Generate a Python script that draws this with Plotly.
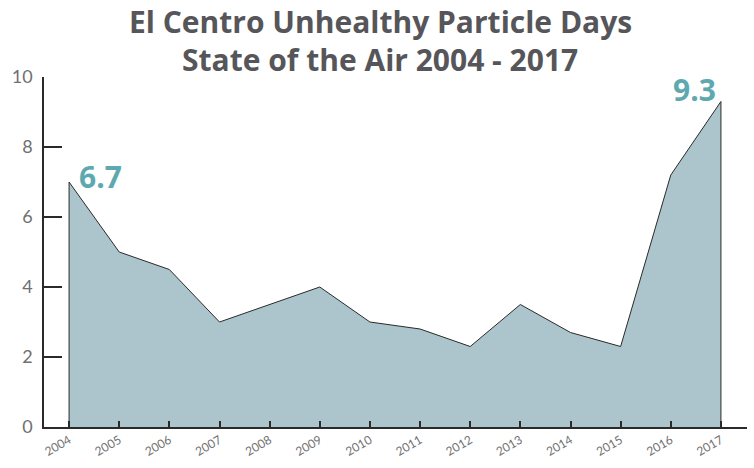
import plotly.graph_objects as go

years = list(range(2004, 2018))
days = [7.0, 5.0, 4.5, 3.0, 3.5, 4.0, 3.0, 2.8, 2.3, 3.5, 2.7, 2.3, 7.2, 9.3]
y_ticks = [0, 2, 4, 6, 8, 10]
callouts = {2004: "6.7", 2017: "9.3"}
title_lines = ["El Centro Unhealthy Particle Days", "State of the Air 2004 - 2017"]

# closed outline so the area has vertical edges at both ends
px = [years[0]] + years + [years[-1]]
py = [0] + days + [0]

fig = go.Figure()
fig.add_trace(go.Scatter(
    x=px, y=py, mode="lines", fill="toself",
    fillcolor="#acc4cb", line=dict(color="#2a2a2a", width=1),
    hoverinfo="skip", showlegend=False,
))

callout_font = dict(family="Open Sans, Lato, sans-serif", size=30, color="#5ea9af")
fig.add_annotation(x=2004, y=days[0], text="<b>" + callouts[2004] + "</b>",
                   showarrow=False, xanchor="left", yanchor="bottom",
                   xshift=8, yshift=-17, font=callout_font)
fig.add_annotation(x=2017, y=days[-1], text="<b>" + callouts[2017] + "</b>",
                   showarrow=False, xanchor="right", yanchor="bottom",
                   xshift=-3, yshift=-10, font=callout_font)

title_font = dict(family="Open Sans, Lato, sans-serif", size=30, color="#56565a")
for ty, line in zip([1.16, 1.05], title_lines):
    fig.add_annotation(xref="paper", yref="paper", x=0.478, y=ty,
                       text="<b>" + line + "</b>", showarrow=False,
                       xanchor="center", yanchor="middle", font=title_font)

fig.update_layout(
    width=754, height=468,
    margin=dict(l=44, r=7, t=77, b=41, autoexpand=False),
    plot_bgcolor="white", paper_bgcolor="white",
    xaxis=dict(
        range=[2003.5, 2017.52], tickvals=years, ticktext=[str(y) for y in years],
        tickangle=-30, ticks="inside", ticklen=6, tickcolor="#2a2a2a", tickwidth=1.5,
        showline=True, linecolor="#2a2a2a", linewidth=1.5, showgrid=False, zeroline=False,
        automargin=False,
        tickfont=dict(family="Lato, sans-serif", size=12, color="#707070"),
    ),
    yaxis=dict(
        range=[0, 10], tickvals=y_ticks, ticks="inside", ticklen=18,
        tickcolor="#2a2a2a", tickwidth=1.5,
        showline=True, linecolor="#2a2a2a", linewidth=1.5, showgrid=False, zeroline=False,
        ticklabelstandoff=6, automargin=False,
        tickfont=dict(family="Lato, sans-serif", size=18, color="#707070"),
    ),
)

fig.write_html("out.html", config={"displayModeBar": False},
               post_script="document.body.style.margin='0';")
